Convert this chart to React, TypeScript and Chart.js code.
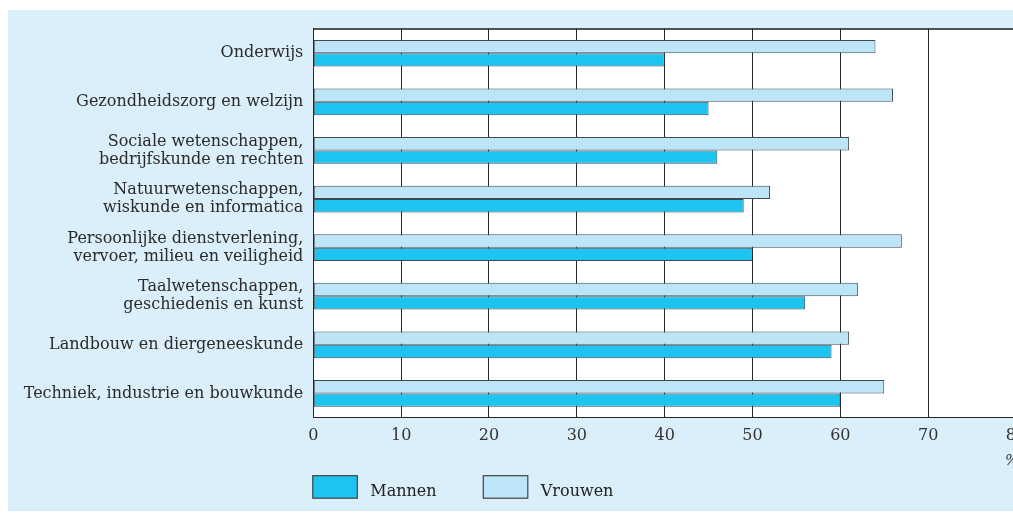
import React, { useEffect, useRef } from "react";
import { Chart, registerables } from "chart.js";

Chart.register(...registerables);

const categories: (string | string[])[] = [
  "Onderwijs",
  "Gezondheidszorg en welzijn",
  ["Sociale wetenschappen,", "bedrijfskunde en rechten"],
  ["Natuurwetenschappen,", "wiskunde en informatica"],
  ["Persoonlijke dienstverlening,", "vervoer, milieu en veiligheid"],
  ["Taalwetenschappen,", "geschiedenis en kunst"],
  "Landbouw en diergeneeskunde",
  "Techniek, industrie en bouwkunde",
];
const vrouwen = [64, 66, 61, 52, 67, 62, 61, 65];
const mannen = [40, 45, 46, 49, 50, 56, 59, 60];
const xMin = 0;
const xMax = 80;
const xStep = 10;
const unitLabel = "%";
const legendOrder = ["Mannen", "Vrouwen"];

const FONT = "'DejaVu Serif', serif";
const PANEL = "#dbeffa";
const C_MAN = "#1ec4f0";
const C_VROUW = "#bce5f8";
const BORDER = "#3e4a50";

const framePlugin = {
  id: "frame",
  beforeDraw(chart: any) {
    const { ctx, chartArea: a } = chart;
    ctx.save();
    ctx.fillStyle = "#ffffff";
    ctx.fillRect(a.left, a.top, a.right - a.left, a.bottom - a.top);
    ctx.restore();
  },
  afterDraw(chart: any) {
    const { ctx, chartArea: a } = chart;
    ctx.save();
    ctx.strokeStyle = "#1e1e1e";
    ctx.lineWidth = 1.6;
    ctx.beginPath();
    ctx.moveTo(a.left, a.top);
    ctx.lineTo(a.right, a.top);
    ctx.stroke();
    // unit label
    const xs = chart.scales.x;
    ctx.fillStyle = "#333";
    ctx.font = "italic 15px " + FONT;
    ctx.textAlign = "left";
    ctx.textBaseline = "middle";
    ctx.fillText(unitLabel, xs.getPixelForValue(xMax) - 11, a.bottom + 43);
    // legend
    ctx.font = "16px " + FONT;
    const ds = chart.data.datasets;
    legendOrder.forEach((name, i) => {
      const d = ds.find((q: any) => q.label === name);
      const bx = a.left - 1 + i * 170.5;
      const by = a.bottom + 57.5;
      ctx.fillStyle = d.backgroundColor;
      ctx.fillRect(bx, by, 45, 23);
      ctx.strokeStyle = "#444";
      ctx.lineWidth = 1.2;
      ctx.strokeRect(bx + 0.5, by + 0.5, 44.5, 22.5);
      ctx.fillStyle = "#222";
      ctx.textBaseline = "middle";
      ctx.fillText(name, bx + 58, by + 17);
    });
    ctx.restore();
  },
};

export default function App() {
  const ref = useRef<HTMLCanvasElement | null>(null);
  useEffect(() => {
    if (!ref.current) return;
    const chart = new Chart(ref.current, {
      type: "bar",
      data: {
        labels: categories,
        datasets: [
          {
            label: "Vrouwen",
            data: vrouwen,
            backgroundColor: C_VROUW,
            borderColor: BORDER,
            borderWidth: 1,
            borderSkipped: false,
            categoryPercentage: 0.55,
            barPercentage: 1,
          },
          {
            label: "Mannen",
            data: mannen,
            backgroundColor: C_MAN,
            borderColor: BORDER,
            borderWidth: 1,
            borderSkipped: false,
            categoryPercentage: 0.55,
            barPercentage: 1,
          },
        ],
      },
      options: {
        indexAxis: "y",
        animation: false,
        responsive: false,
        events: [],
        layout: { padding: { top: 17, right: 22, left: 0, bottom: 0 } },
        plugins: { legend: { display: false }, tooltip: { enabled: false }, title: { display: false } },
        scales: {
          x: {
            min: xMin,
            max: xMax,
            ticks: {
              stepSize: xStep,
              color: "#333",
              font: { family: FONT, size: 16 },
              padding: 9,
              maxRotation: 0,
            },
            grid: { color: "#262626", lineWidth: 1, drawTicks: false },
            border: { display: true, color: "#262626", width: 1 },
            afterFit: (s: any) => {
              s.height = 93.3;
            },
          },
          y: {
            ticks: {
              color: "#2a2a2a",
              font: { family: FONT, size: 16, lineHeight: 1.12 },
              padding: 10,
              autoSkip: false,
            },
            grid: { display: false, drawTicks: false },
            border: { display: true, color: "#262626", width: 1 },
            afterFit: (s: any) => {
              s.width = 305.3;
            },
          },
        },
      },
      plugins: [framePlugin],
    } as any);
    return () => chart.destroy();
  }, []);
  return (
    <div
      style={{
        position: "fixed",
        left: 0,
        top: 0,
        width: 1013,
        height: 513,
        overflow: "hidden",
        background: "#ffffff",
      }}
    >
      <canvas
        ref={ref}
        width={1030}
        height={501}
        style={{ position: "absolute", left: 8, top: 10, width: 1030, height: 501, background: PANEL }}
      />
    </div>
  );
}
